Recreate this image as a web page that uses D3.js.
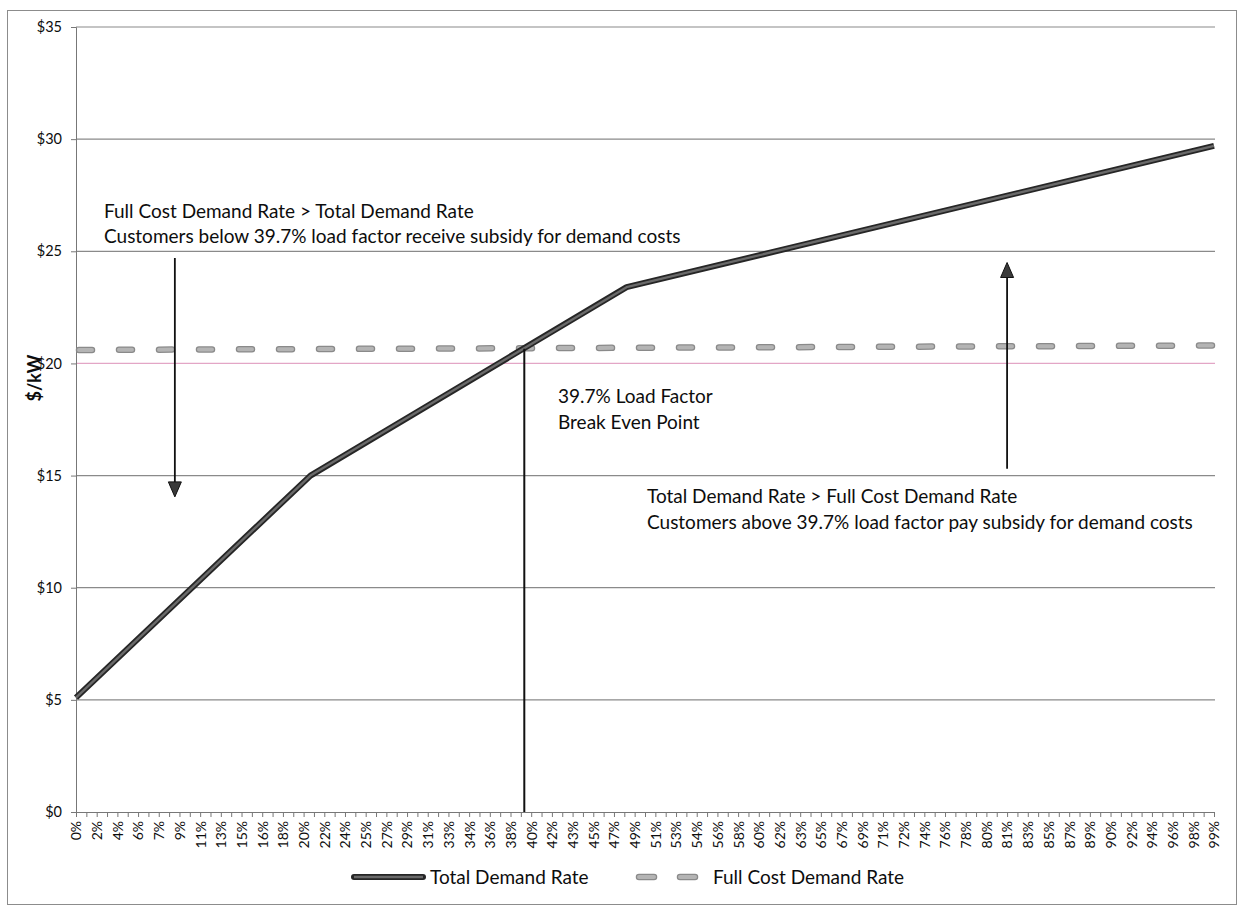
<!DOCTYPE html>
<html>
<head>
<meta charset="utf-8">
<script src="https://cdn.jsdelivr.net/npm/d3@7"></script>
<style>
  body { margin: 0; background: #fff; }
  text { font-family: Lato, "Open Sans", sans-serif; fill: #0d0d0d; }
</style>
</head>
<body>
<script>
// ---------- data ----------
// x tick labels (every other category on the axis)
const xLabels = ["0%","2%","4%","6%","7%","9%","11%","13%","15%","16%","18%","20%","22%","24%","25%",
  "27%","29%","31%","33%","34%","36%","38%","40%","42%","43%","45%","47%","49%","51%","53%","54%",
  "56%","58%","60%","62%","63%","65%","67%","69%","71%","72%","74%","76%","78%","80%","81%","83%",
  "85%","87%","89%","90%","92%","94%","96%","98%","99%"];
const yTicks = [0, 5, 10, 15, 20, 25, 30, 35];

// load factor (%) of the line's break points, and $/kW values
const totalLF    = [0, 20.4, 47.9, 99];
const totalRate  = [5.1, 15.0, 23.4, 29.7];
const fullLF     = [0, 99];
const fullRate   = [20.6, 20.8];

const breakEven = 39.0;

// ---------- layout ----------
const W = 1244, H = 909;
const plotL = 76, plotR = 1214, plotT = 27, plotB = 812;

const svg = d3.select('body').append('svg')
  .attr('width', W).attr('height', H);

// chart border
svg.append('rect')
  .attr('x', 7.5).attr('y', 10.5)
  .attr('width', 1229).attr('height', 894)
  .style('fill', 'none').style('stroke', '#8c8c8c').style('stroke-width', 1);

const x = d3.scaleLinear().domain([0, 99]).range([plotL, plotR]);
const y = d3.scaleLinear().domain([0, 35]).range([plotB, plotT]);

// gridlines
svg.append('g').selectAll('line')
  .data(yTicks.filter(d => d > 0))
  .join('line')
  .attr('x1', plotL).attr('x2', plotR + 1)
  .attr('y1', d => y(d)).attr('y2', d => y(d))
  .style('stroke', d => d === 20 ? '#e3a6c6' : '#8a8a8a')
  .style('stroke-width', 1.2);

// y axis
const yAxis = svg.append('g')
  .attr('transform', 'translate(' + plotL + ',0)')
  .call(d3.axisLeft(y).tickValues(yTicks).tickSize(5).tickPadding(9).tickFormat(d => '$' + d));
yAxis.selectAll('text').style('font-size', '14.5px');
yAxis.selectAll('line, path').style('stroke', '#777');

svg.append('text')
  .attr('transform', 'translate(41,' + 378 + ') rotate(-90)')
  .attr('text-anchor', 'middle')
  .style('font-size', '18px')
  .style('font-weight', 'bold')
  .text('$/kW');

// x axis: a tick on every category, labels on every other one
const cats = d3.range(xLabels.length * 2 - 1).map(i => i * 0.9);
const xAxis = svg.append('g')
  .attr('transform', 'translate(0,' + plotB + ')')
  .call(d3.axisBottom(x).tickValues(cats).tickSize(5).tickPadding(4)
    .tickFormat((d, i) => i % 2 === 0 ? xLabels[i / 2] : ''));
xAxis.selectAll('line, path').style('stroke', '#777');
xAxis.selectAll('text')
  .style('font-size', '14px')
  .attr('text-anchor', 'end')
  .attr('transform', 'rotate(-90)')
  .attr('x', -9).attr('y', 0).attr('dy', '0.35em');

// ---------- lines ----------
const lineGen = d3.line().x(d => x(d[0])).y(d => y(d[1]));
const totalPts = totalLF.map((d, i) => [d, totalRate[i]]);
const fullPts = fullLF.map((d, i) => [d, fullRate[i]]);

// full cost demand rate: rounded gray dashes
svg.append('path').datum(fullPts)
  .attr('d', lineGen)
  .style('fill', 'none').style('stroke', '#8a8a8a').style('stroke-width', 6.5)
  .style('stroke-linecap', 'round').style('stroke-dasharray', '13,27')
  .attr('transform', 'translate(3,0)');
svg.append('path').datum(fullPts)
  .attr('d', lineGen)
  .style('fill', 'none').style('stroke', '#b4b4b4').style('stroke-width', 4)
  .style('stroke-linecap', 'round').style('stroke-dasharray', '13,27')
  .attr('transform', 'translate(3,0)');

// total demand rate: dark outline with gray core
svg.append('path').datum(totalPts)
  .attr('d', lineGen)
  .style('fill', 'none').style('stroke', '#262626').style('stroke-width', 6)
  .style('stroke-linejoin', 'round');
svg.append('path').datum(totalPts)
  .attr('d', lineGen)
  .style('fill', 'none').style('stroke', '#6a6a6a').style('stroke-width', 2.4)
  .style('stroke-linejoin', 'round');

// ---------- annotations ----------
svg.append('line')
  .attr('x1', x(breakEven)).attr('x2', x(breakEven))
  .attr('y1', y(20.65)).attr('y2', plotB)
  .style('stroke', '#111').style('stroke-width', 2);

function arrow(xv, fromV, toV) {
  const px = x(xv), y0 = y(fromV), y1 = y(toV);
  const dir = y1 > y0 ? 1 : -1;
  svg.append('line')
    .attr('x1', px).attr('x2', px)
    .attr('y1', y0).attr('y2', y1 - dir * 14)
    .style('stroke', '#111').style('stroke-width', 1.8);
  svg.append('path')
    .attr('d', 'M' + (px - 6.5) + ',' + (y1 - dir * 15) + 'L' + (px + 6.5) + ',' + (y1 - dir * 15) + 'L' + px + ',' + y1 + 'Z')
    .style('fill', '#3a3a3a').style('stroke', '#111').style('stroke-width', 1);
}
arrow(8.6, 24.7, 14.05);
arrow(81, 15.3, 24.5);

function note(px, py, lines, gap) {
  const t = svg.append('text').attr('x', px).attr('y', py).style('font-size', '19px');
  lines.forEach((s, i) => t.append('tspan').attr('x', px).attr('dy', i === 0 ? 0 : gap).text(s));
}
note(104, 218, ['Full Cost Demand Rate > Total Demand Rate',
  'Customers below 39.7% load factor receive subsidy for demand costs'], 25);
note(558, 403, ['39.7% Load Factor', 'Break Even Point'], 26);
note(647, 503, ['Total Demand Rate > Full Cost Demand Rate',
  'Customers above 39.7% load factor pay subsidy for demand costs'], 26);

// ---------- legend ----------
const lg = svg.append('g').attr('transform', 'translate(0,877)');
lg.append('line').attr('x1', 354).attr('x2', 423).attr('y1', 0).attr('y2', 0)
  .style('stroke', '#262626').style('stroke-width', 6).style('stroke-linecap', 'round');
lg.append('line').attr('x1', 354).attr('x2', 423).attr('y1', 0).attr('y2', 0)
  .style('stroke', '#6a6a6a').style('stroke-width', 2.4);
lg.append('text').attr('x', 430).attr('y', 0).attr('dy', '0.35em')
  .style('font-size', '19px').text('Total Demand Rate');
[[639, 654], [680, 695]].forEach(d => {
  lg.append('line').attr('x1', d[0]).attr('x2', d[1]).attr('y1', 0).attr('y2', 0)
    .style('stroke', '#8a8a8a').style('stroke-width', 6.5).style('stroke-linecap', 'round');
  lg.append('line').attr('x1', d[0]).attr('x2', d[1]).attr('y1', 0).attr('y2', 0)
    .style('stroke', '#b4b4b4').style('stroke-width', 4).style('stroke-linecap', 'round');
});
lg.append('text').attr('x', 713).attr('y', 0).attr('dy', '0.35em')
  .style('font-size', '19px').text('Full Cost Demand Rate');
</script>
</body>
</html>
